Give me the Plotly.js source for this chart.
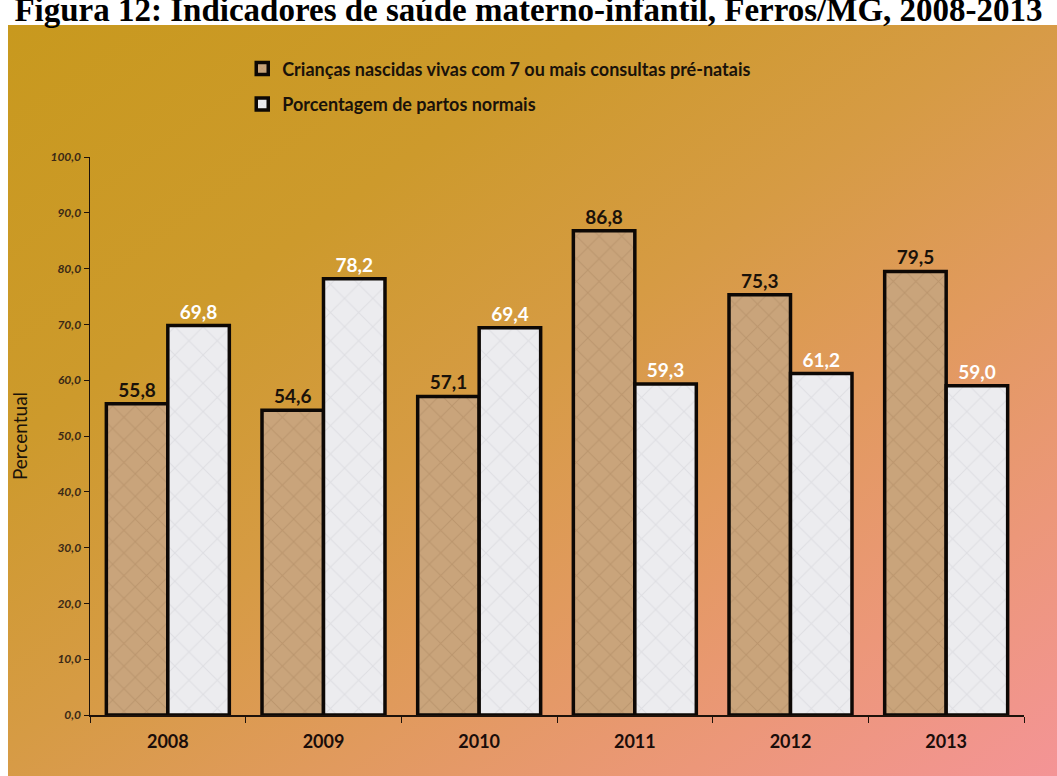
<!DOCTYPE html>
<html>
<head>
<meta charset="utf-8">
<script src="https://cdn.plot.ly/plotly-3.0.1.min.js"></script>
<style>
  html, body { margin: 0; padding: 0; background: #ffffff; }
  #bg { position: absolute; left: 8px; top: 25px; width: 1049px; height: 751px;
        background: linear-gradient(to bottom right, #C8991E 0%, #CD9A2C 28%, #D69B44 48%, #E19A5E 65%, #EC9779 82%, #F49496 100%); }
  #chart { position: absolute; left: 0; top: 0; width: 1057px; height: 776px; }
</style>
</head>
<body>
<div id="bg"></div>
<div id="chart"></div>
<script>
const years = ["2008", "2009", "2010", "2011", "2012", "2013"];
const consultas = [55.8, 54.6, 57.1, 86.8, 75.3, 79.5];
const partosNormais = [69.8, 78.2, 69.4, 59.3, 61.2, 59.0];
const seriesNames = ["Crianças nascidas vivas com 7 ou mais consultas pré-natais", "Porcentagem de partos normais"];
const yTicks = [0, 10, 20, 30, 40, 50, 60, 70, 80, 90, 100];

const labelFont = {family: "Lato, 'Open Sans', sans-serif", size: 19, weight: 700};

const traces = [
  {
    type: "bar", x: years, y: consultas, name: seriesNames[0], legendgroup: "a",
    marker: {color: "#C6A077", line: {color: "#0d0805", width: 3.5},
             pattern: {shape: "x", fillmode: "replace", bgcolor: "#C9A47B", fgcolor: "#8f6a44", fgopacity: 0.25, size: 16, solidity: 0.12}},
    text: consultas.map(v => v.toFixed(1).replace(".", ",")),
    textposition: "outside", cliponaxis: false,
    textfont: Object.assign({}, labelFont, {color: "#1a120a"}),
    hoverinfo: "skip"
  },
  {
    type: "bar", x: years, y: partosNormais, name: seriesNames[1], legendgroup: "b",
    marker: {color: "#E9E9EC", line: {color: "#0d0805", width: 3.5},
             pattern: {shape: "x", fillmode: "replace", bgcolor: "#ECECEF", fgcolor: "#b4b4bc", fgopacity: 0.25, size: 20, solidity: 0.1}},
    text: partosNormais.map(v => v.toFixed(1).replace(".", ",")),
    textposition: "outside", cliponaxis: false,
    textfont: Object.assign({}, labelFont, {color: "#ffffff"}),
    hoverinfo: "skip"
  }
];

const layout = {
  width: 1057, height: 776,
  paper_bgcolor: "rgba(0,0,0,0)", plot_bgcolor: "rgba(0,0,0,0)",
  margin: {l: 90, r: 33, t: 157, b: 61},
  separators: ",.",
  barmode: "group", bargap: 0.21, bargroupgap: 0,
  title: {
    text: "Figura 12: Indicadores de saúde materno-infantil, Ferros/MG, 2008-2013",
    font: {family: "'Liberation Serif', 'Times New Roman', serif", size: 33, weight: 700, color: "#000000"},
    x: 0.5, xanchor: "center", xref: "container", y: 0.988, yanchor: "middle", yref: "container"
  },
  showlegend: true,
  legend: {
    orientation: "v", x: 0.163, xanchor: "left", y: 1.191, yanchor: "top",
    bgcolor: "rgba(0,0,0,0)", tracegroupgap: 9, traceorder: "grouped",
    font: {family: "Lato, 'Open Sans', sans-serif", size: 18, weight: 700, color: "#1a120a"},
    itemwidth: 30
  },
  xaxis: {
    type: "category", showgrid: false, zeroline: false,
    showline: true, linecolor: "#1e120a", linewidth: 1.5,
    ticks: "outside", tickson: "boundaries", ticklen: 6, tickcolor: "#1e120a", tickwidth: 1,
    ticklabelstandoff: 10,
    tickfont: {family: "Lato, 'Open Sans', sans-serif", size: 18, weight: 700, color: "#1a0d0a"},
    fixedrange: true
  },
  yaxis: {
    range: [0, 100], tickvals: yTicks, tickformat: ".1f",
    showgrid: false, zeroline: false,
    showline: true, linecolor: "#1e120a", linewidth: 1.5,
    ticks: "outside", ticklen: 5, tickcolor: "#1e120a",
    tickfont: {family: "Lato, 'Open Sans', sans-serif", size: 12, weight: 700, style: "italic", color: "#3a2816"},
    title: {text: "Percentual", standoff: 18,
            font: {family: "Lato, 'Open Sans', sans-serif", size: 19, color: "#1a120a"}},
    fixedrange: true
  }
};

Plotly.newPlot("chart", traces, layout, {displayModeBar: false, staticPlot: true});
</script>
</body>
</html>
